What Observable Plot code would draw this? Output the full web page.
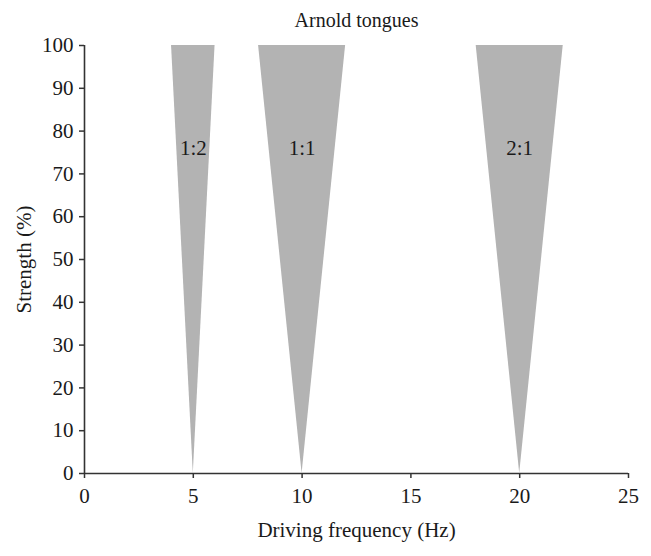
<!DOCTYPE html>
<html><head>
<meta charset="utf-8">
<script src="https://cdn.jsdelivr.net/npm/d3@7"></script>
<script src="https://cdn.jsdelivr.net/npm/@observablehq/plot@0.6"></script>
<style>body{margin:0;background:#fff}</style>
</head><body><div id="chart"></div>
<script>
const tongueLabels = ["1:2", "1:1", "2:1"];
const tongueCenter = [5, 10, 20];
const tongueLeft = [4, 8, 18];
const tongueRight = [6, 12, 22];
const labelStrength = [76, 76, 76];
const xTicks = [0, 5, 10, 15, 20, 25];
const yTicks = [0, 10, 20, 30, 40, 50, 60, 70, 80, 90, 100];
const title = "Arnold tongues";

const areaData = [];
tongueLabels.forEach((t, i) => {
  areaData.push({tongue: t, y: 0, x1: tongueCenter[i], x2: tongueCenter[i]});
  areaData.push({tongue: t, y: 100, x1: tongueLeft[i], x2: tongueRight[i]});
});
const labelData = tongueLabels.map((t, i) => ({tongue: t, x: tongueCenter[i], y: labelStrength[i]}));

const axisColor = "#333";
const chart = Plot.plot({
  width: 651,
  height: 556,
  marginLeft: 84,
  marginRight: 23,
  marginTop: 45,
  marginBottom: 83,
  style: {fontFamily: "'Liberation Serif', serif", fontSize: "21px", color: "#1a1a1a", background: "#fff"},
  x: {domain: [0, 25]},
  y: {domain: [0, 100]},
  marks: [
    Plot.areaX(areaData, {y: "y", x1: "x1", x2: "x2", z: "tongue", fill: "#b3b3b3"}),
    Plot.text(labelData, {x: "x", y: "y", text: "tongue", fontSize: 21, fill: "#1a1a1a"}),
    Plot.ruleY([0], {stroke: axisColor, strokeWidth: 1.6}),
    Plot.ruleX([0], {stroke: axisColor, strokeWidth: 1.6}),
    Plot.axisX({ticks: xTicks, tickSize: 5, tickPadding: 10, stroke: axisColor, strokeWidth: 1.5,
      label: "Driving frequency (Hz)", labelAnchor: "center", labelArrow: "none", labelOffset: 63, fontSize: 21}),
    Plot.axisY({ticks: yTicks, tickSize: 5, tickPadding: 6, stroke: axisColor, strokeWidth: 1.5,
      label: "Strength (%)", labelAnchor: "center", labelArrow: "none", labelOffset: 68, fontSize: 21}),
    Plot.text([title], {frameAnchor: "top", lineAnchor: "middle", dy: -25, fontSize: 20, fill: "#1a1a1a"})
  ]
});
document.getElementById("chart").appendChild(chart);
</script>
</body></html>
